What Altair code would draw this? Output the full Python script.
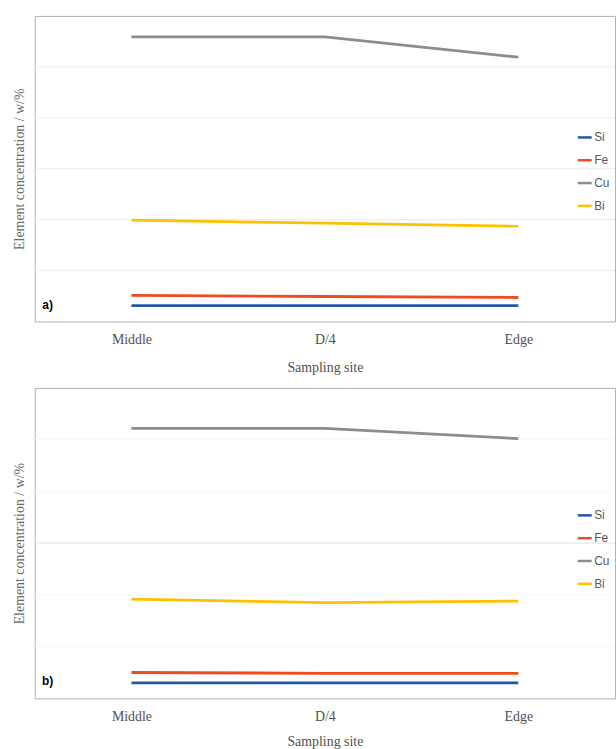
import altair as alt
import pandas as pd

# Sampling positions along the x axis and the elements plotted
sites = ["Middle", "D/4", "Edge"]
elements = ["Si", "Fe", "Cu", "Bi"]
colors = ["#2257a8", "#ee4b22", "#8c8c8c", "#ffc000"]

# Panel a) concentrations
si_a = [0.31, 0.31, 0.31]
fe_a = [0.51, 0.49, 0.47]
cu_a = [5.59, 5.59, 5.19]
bi_a = [1.99, 1.93, 1.87]

# Panel b) concentrations
si_b = [0.30, 0.30, 0.30]
fe_b = [0.50, 0.485, 0.485]
cu_b = [5.22, 5.22, 5.02]
bi_b = [1.92, 1.85, 1.88]

# Horizontal gridlines: all levels in panel a), one major level in panel b)
grid_levels = [1, 2, 3, 4, 5]
faint_b = [1, 2, 4, 5]
major_b = [3]

SERIF = "Liberation Serif"
SANS = "Liberation Sans"


def to_frame(series):
    rows = []
    for el, vals in zip(elements, series):
        for s, v in zip(sites, vals):
            rows.append({"site": s, "element": el, "value": v})
    return pd.DataFrame(rows)


def rules(levels, color):
    return (
        alt.Chart(pd.DataFrame({"v": levels}))
        .mark_rule(color=color, strokeWidth=1)
        .encode(y=alt.Y("v:Q"))
    )


def panel(df, tag, height, legend_y, grids, x_title_pad):
    lines = alt.Chart(df).mark_line(strokeWidth=2.8).encode(
        x=alt.X(
            "site:N",
            sort=sites,
            scale=alt.Scale(type="point", padding=0.5),
            axis=alt.Axis(
                title="Sampling site",
                labelAngle=0,
                labelFont=SERIF,
                labelFontSize=14,
                labelColor="#505050",
                labelPadding=11,
                titleFont=SERIF,
                titleFontSize=14,
                titleFontWeight="normal",
                titleColor="#505050",
                titlePadding=x_title_pad,
                ticks=False,
                domain=False,
                grid=False,
            ),
        ),
        y=alt.Y(
            "value:Q",
            scale=alt.Scale(domain=[0, 6], nice=False, zero=True),
            axis=alt.Axis(
                title="Element concentration / w/%",
                labels=False,
                ticks=False,
                domain=False,
                grid=False,
                titleFont=SERIF,
                titleFontSize=14,
                titleFontWeight="normal",
                titleColor="#6b6b6b",
                titlePadding=8,
            ),
        ),
        color=alt.Color(
            "element:N",
            sort=elements,
            scale=alt.Scale(domain=elements, range=colors),
            legend=alt.Legend(
                title=None,
                orient="none",
                legendX=546,
                legendY=legend_y,
                symbolType="stroke",
                symbolStrokeWidth=2.5,
                symbolSize=196,
                labelFont=SANS,
                labelFontSize=12,
                labelColor="#595959",
                labelOffset=1,
                rowPadding=8,
                padding=0,
            ),
        ),
    )
    label = alt.Chart(pd.DataFrame({"t": [tag]})).mark_text(
        font=SANS, fontSize=12, fontWeight="bold", color="#000000",
        align="center", baseline="middle",
    ).encode(text="t:N", x=alt.value(13), y=alt.value(height - 17))
    return alt.layer(*grids, lines, label).properties(width=585, height=height)


top = panel(
    to_frame([si_a, fe_a, cu_a, bi_a]), "a)", 308, 114,
    [rules(grid_levels, "#e6eeee")], 14,
)
bottom = panel(
    to_frame([si_b, fe_b, cu_b, bi_b]), "b)", 313, 120,
    [rules(faint_b, "#f8f8f8"), rules(major_b, "#e4e4e4")], 11,
)

chart = (
    alt.vconcat(top, bottom, spacing=67, bounds="flush")
    .resolve_scale(color="independent", y="independent")
    .resolve_legend(color="independent")
    .properties(padding={"left": 12, "top": 12, "right": 0, "bottom": 0}, background="white")
    .configure_view(stroke="#b0b0b0", strokeWidth=1)
)

chart.save("out.html", embed_options={"renderer": "svg", "actions": False})
